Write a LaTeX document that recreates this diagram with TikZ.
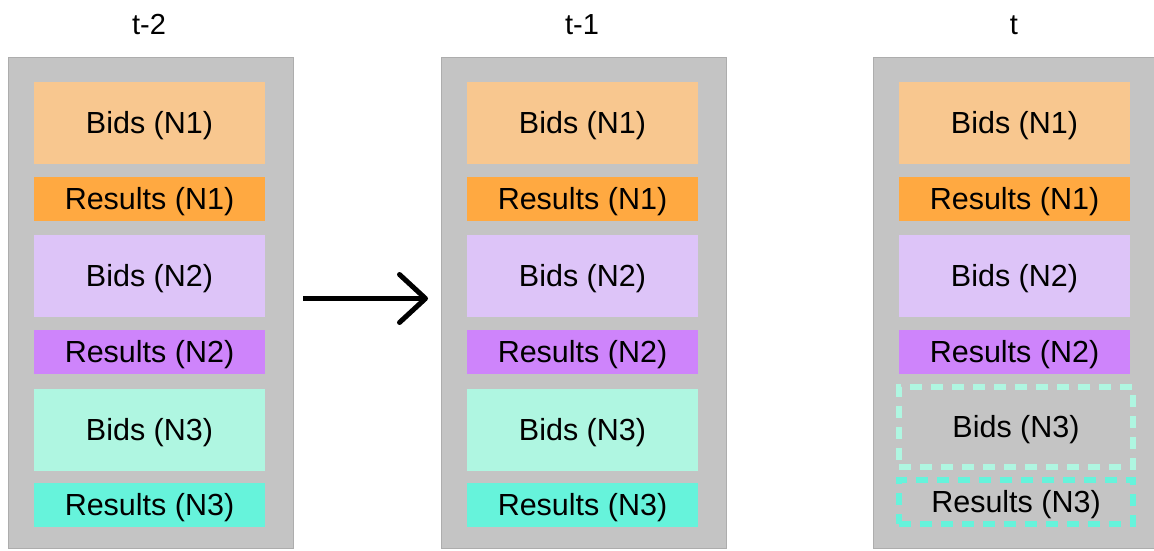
\documentclass[tikz,border=0pt]{standalone}
\usepackage{fontspec}
\setmainfont{Liberation Sans}
\usetikzlibrary{arrows.meta}

\definecolor{colgray}{HTML}{C4C4C4}
\definecolor{colline}{HTML}{ADADAD}
\definecolor{bidsone}{HTML}{F8C78F}
\definecolor{resone}{HTML}{FFA941}
\definecolor{bidstwo}{HTML}{DDC4F8}
\definecolor{restwo}{HTML}{CE84FB}
\definecolor{bidsthree}{HTML}{AFF6E1}
\definecolor{resthree}{HTML}{66F3DB}

\tikzset{
    column/.style={draw=colline, line width=1pt, fill=colgray, minimum width=285pt, minimum height=491pt, inner sep=0pt, anchor=north west},
    title/.style={font=\fontsize{29}{32}\selectfont, text height=20pt, text depth=0pt},
    label text/.style={font=\fontsize{30.5}{34}\selectfont, text height=21pt, text depth=0pt},
    block/.style={label text, minimum width=231pt, inner sep=0pt},
    bidsbox/.style={block, minimum height=82pt},
    resbox/.style={block, minimum height=44pt},
    missing/.style={label text, draw=#1, line width=6pt, dash pattern=on 12pt off 9pt, inner sep=0pt},
    flow/.style={line width=5pt, -{Straight Barb[length=26pt, width=48pt, round]}, shorten <=9pt, shorten >=13pt}
}

\begin{document}
\begin{tikzpicture}[x=1pt, y=-1pt]
    \useasboundingbox (0,0) rectangle (1154,550);

    % time steps
    \foreach \name/\x/\lab in {colA/8/t-2, colB/441/t-1, colC/873/t} {
        \node[column] (\name) at (\x, 57) {};
        \node[title] (\name-title) at (\x+141, 24) {\lab};

        % nodes N1 and N2
        \node[bidsbox, fill=bidsone] (\name-b1) at (\x+141.5, 123) {Bids (N1)};
        \node[resbox, fill=resone] (\name-r1) at (\x+141.5, 199) {Results (N1)};
        \node[bidsbox, fill=bidstwo] (\name-b2) at (\x+141.5, 276) {Bids (N2)};
        \node[resbox, fill=restwo] (\name-r2) at (\x+141.5, 351.5) {Results (N2)};
    }

    % node N3
    \foreach \name/\x in {colA/8, colB/441} {
        \node[bidsbox, fill=bidsthree] (\name-b3) at (\x+141.5, 429.5) {Bids (N3)};
        \node[resbox, fill=resthree] (\name-r3) at (\x+141.5, 505) {Results (N3)};
    }
    \node[missing=bidsthree, minimum width=234pt, minimum height=80pt] (colC-b3) at (1016, 427) {Bids (N3)};
    \node[missing=resthree, minimum width=234pt, minimum height=44pt] (colC-r3) at (1016, 502) {Results (N3)};

    \draw[flow] ([yshift=4.5pt]colA.east) -- ([yshift=4.5pt]colB.west);

\end{tikzpicture}
\end{document}
